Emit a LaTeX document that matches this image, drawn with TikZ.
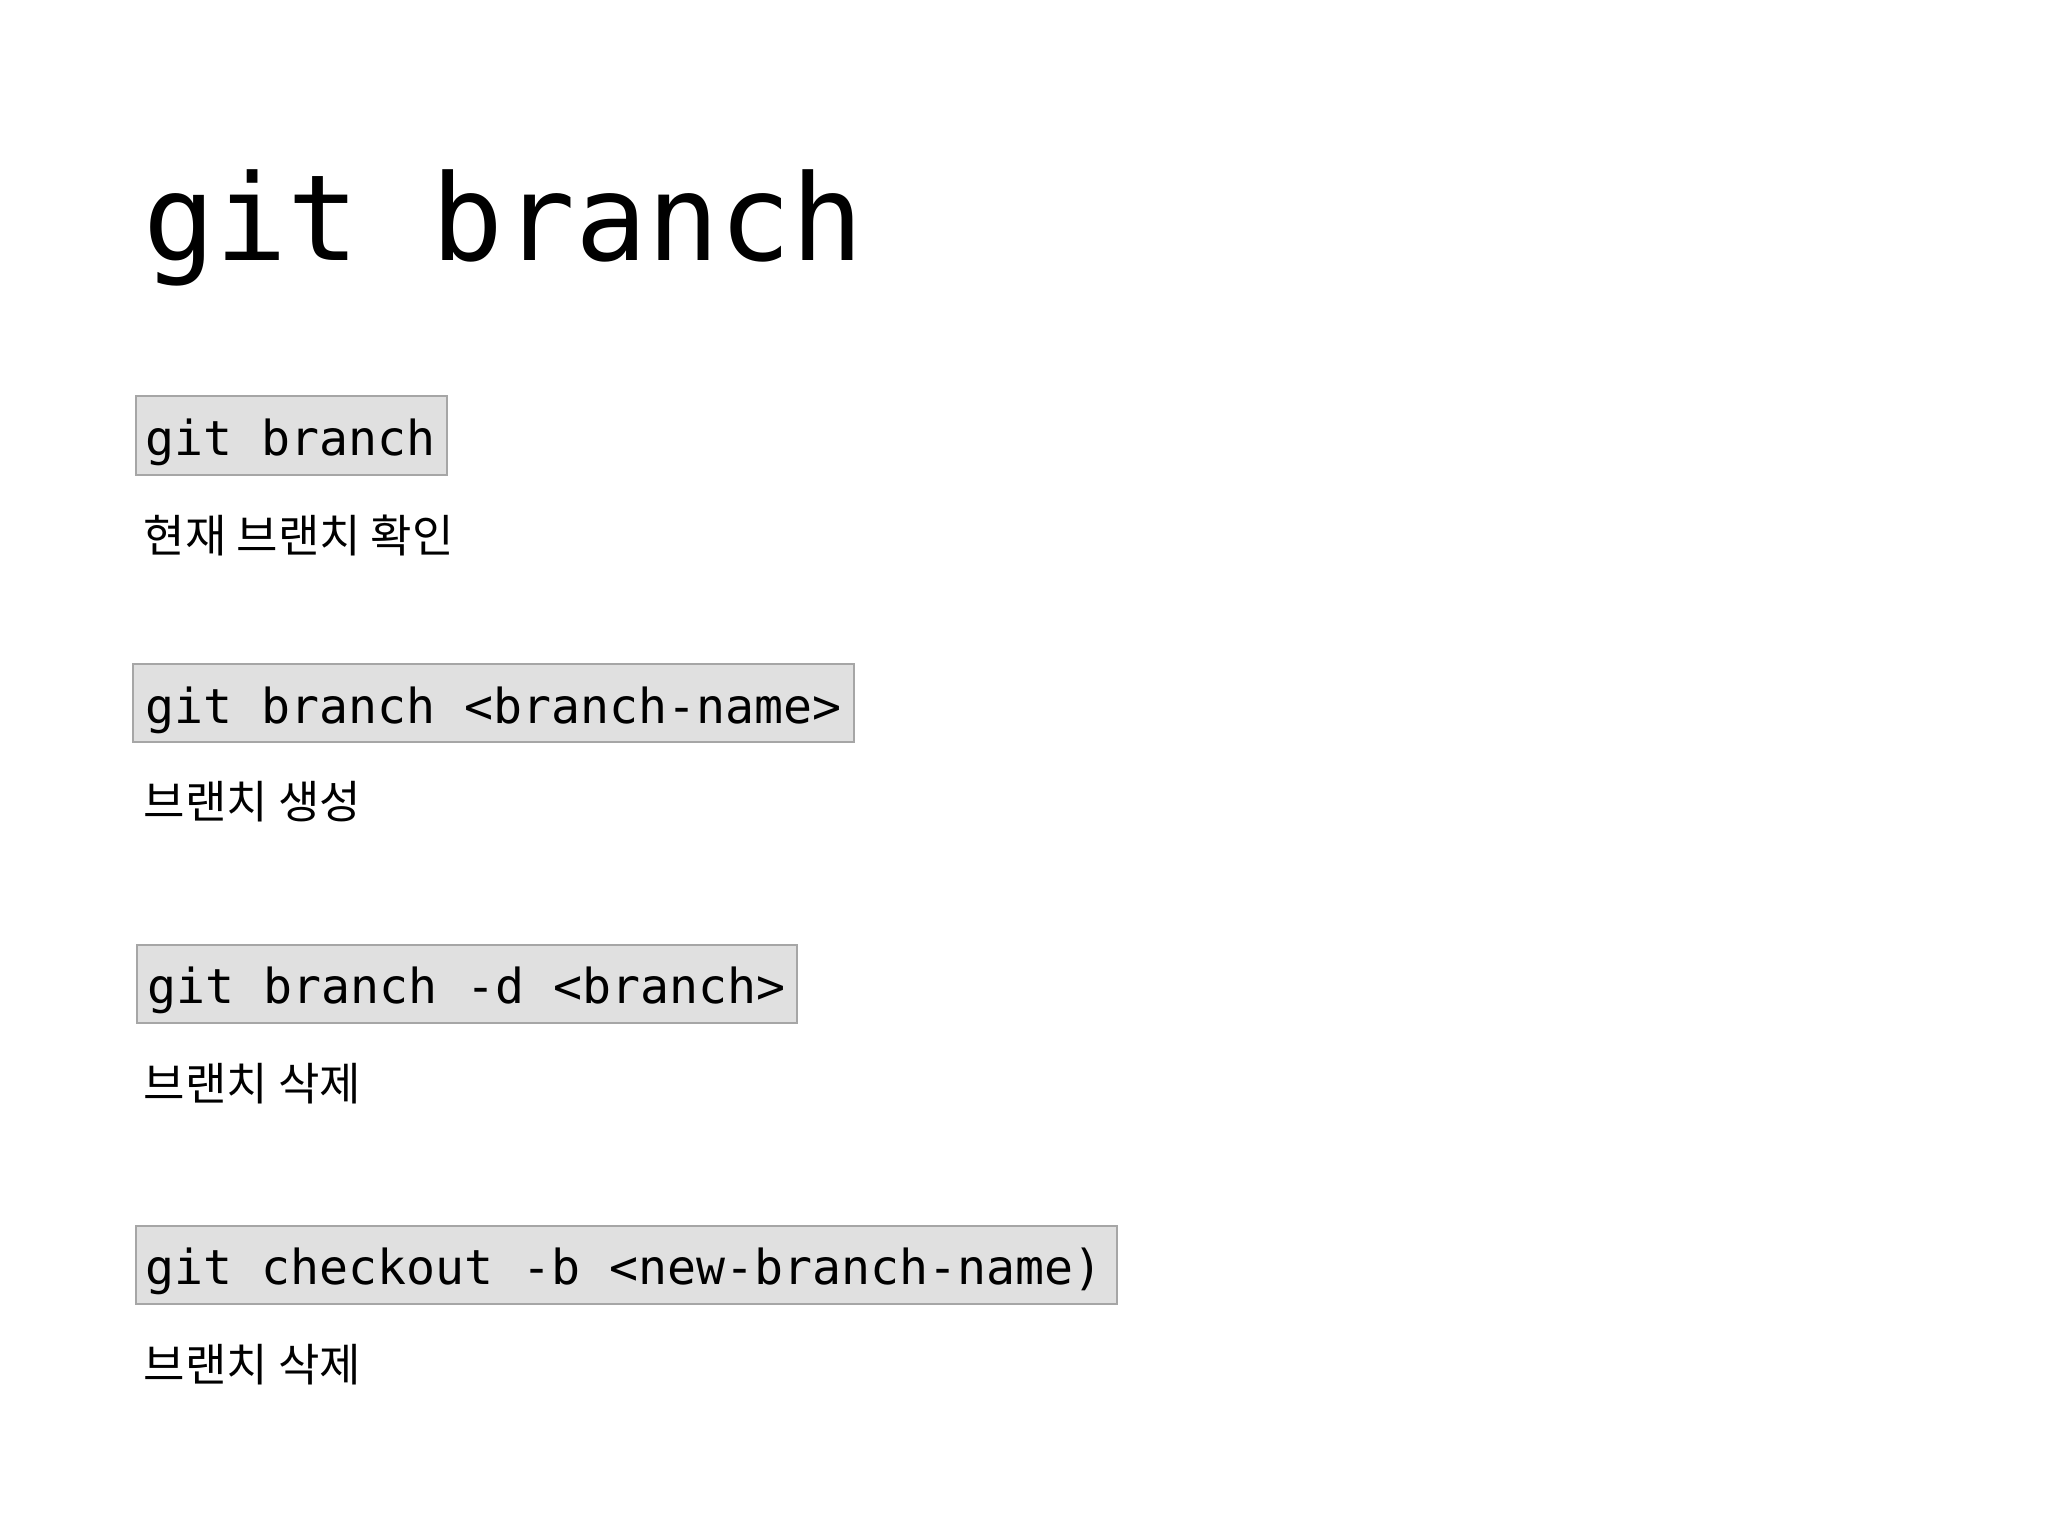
\documentclass[tikz,border=0pt]{standalone}
\usepackage{fontspec}
\setmonofont{DejaVu Sans Mono}
\newfontfamily\kr{Noto Sans CJK KR}
\begin{document}
\begin{tikzpicture}[x=0.01cm,y=-0.01cm,
  codebox/.style={draw=black!35,fill=black!12,line width=0.8pt},
  code/.style={anchor=base west,inner sep=0,font=\fontsize{13.7pt}{16pt}\ttfamily},
  desc/.style={anchor=base west,inner sep=0,font=\fontsize{12.8pt}{15pt}\kr}]
\useasboundingbox (0,0) rectangle (2048,1536);
\node[anchor=base west,inner sep=0,font=\fontsize{34pt}{40pt}\ttfamily] (title) at (143,260) {git branch};
\draw[codebox] (136,396) rectangle (447,475);
\node[code] (c1) at (145,455) {git branch};
\node[desc] (d1) at (143,552) {현재 브랜치 확인};
\draw[codebox] (133,664) rectangle (854,742);
\node[code] (c2) at (145,723) {git branch <branch-name>};
\node[desc] (d2) at (143,818) {브랜치 생성};
\draw[codebox] (137,945) rectangle (797,1023);
\node[code] (c3) at (147,1003) {git branch -d <branch>};
\node[desc] (d3) at (143,1100) {브랜치 삭제};
\draw[codebox] (136,1226) rectangle (1117,1304);
\node[code] (c4) at (145,1284) {git checkout -b <new-branch-name)};
\node[desc] (d4) at (143,1381) {브랜치 삭제};
\end{tikzpicture}
\end{document}
